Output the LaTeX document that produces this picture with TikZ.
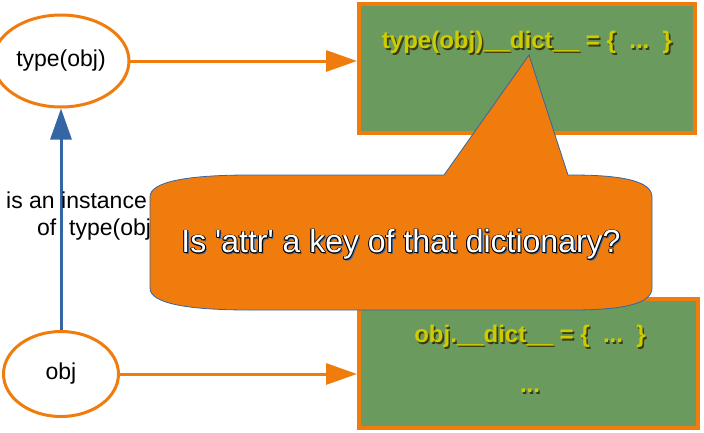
\documentclass[tikz,border=0pt]{standalone}
\usepackage{fontspec}
\setmainfont{Liberation Sans}
\newfontfamily\plainsans{Liberation Sans}[Ligatures=TeXOff]
\usetikzlibrary{arrows.meta,shapes.geometric}

\definecolor{lorange}{HTML}{F07C0E}
\definecolor{lgreen}{HTML}{6B9A5F}
\definecolor{lblue}{HTML}{3465A4}
\definecolor{lyellow}{HTML}{CCCC00}
\definecolor{lshade}{HTML}{3B3B10}

\newcommand{\dropshade}[1]{\rlap{\kern1.6pt\raisebox{-1.6pt}{\textcolor{lshade}{#1}}}#1}
\newcommand{\ghost}[4]{\rlap{\kern#1\raisebox{#2}{\textcolor{#3}{#4}}}}
\newcommand{\outlined}[1]{%
  \ghost{1.6pt}{-1.6pt}{lblue}{#1}%
  \ghost{-0.9pt}{0pt}{black}{#1}\ghost{0.9pt}{0pt}{black}{#1}%
  \ghost{0pt}{0.9pt}{black}{#1}\ghost{0pt}{-0.9pt}{black}{#1}%
  \ghost{-0.65pt}{0.65pt}{black}{#1}\ghost{0.65pt}{0.65pt}{black}{#1}%
  \ghost{-0.65pt}{-0.65pt}{black}{#1}\ghost{0.65pt}{-0.65pt}{black}{#1}%
  \textcolor{white}{#1}}

\begin{document}
\begin{tikzpicture}[x=1pt,y=-1pt,>={Triangle[length=31pt,width=21pt]},
  object/.style={ellipse,draw=lorange,line width=3pt,fill=white,
    minimum width=115pt,font=\fontsize{23}{27}\selectfont},
  dictbox/.style={draw=lorange,line width=4pt,fill=lgreen,inner sep=0pt},
  dicttext/.style={text=lyellow,font=\bfseries\fontsize{24}{28}\selectfont},
  link/.style={->,draw=lorange,line width=3pt},
  callout/.style={fill=lorange,draw=lblue,line width=0.8pt}]
  \useasboundingbox (0,0) rectangle (704,432);

  \node[dictbox,minimum width=336pt,minimum height=129pt] (tdict) at (527,68.5) {};
  \node[dictbox,minimum width=339pt,minimum height=129pt] (odict) at (528.5,363.5) {};
  \node[dicttext] (tdtext) at (527,43) {\dropshade{type(obj)\_\_dict\_\_ = \{\ \ ...\ \ \}}};
  \node[dicttext] (odtext) at (530,337) {\dropshade{obj.\_\_dict\_\_ = \{\ \ ...\ \ \}}};
  \node[dicttext] (odmore) at (530,392) {\dropshade{...}};

  \node[object,minimum height=92pt] (T) at (61,61) {type(obj)};
  \node[object,minimum height=85pt] (O) at (61,374) {obj};

  \path[link] (T.east) -- (T.east -| tdict.west);
  \path[link] (O.east) -- (O.east -| odict.west);
  \path[->,draw=lblue,line width=3pt] (O.north) -- (T.south);

  \node[anchor=west,align=left,inner sep=0pt,font=\fontsize{23}{27}\selectfont]
    (inst) at (6,216) {is an instance\\\hspace*{31pt}of\ \ type(obj)};

  % speech bubble
  \path[callout] (150,197) .. controls (150,181) and (190,175) .. (250,175)
    -- (444,175) -- (529,55) -- (568,175) -- (572,175)
    .. controls (622,175) and (652,181) .. (652,197) -- (652,288)
    .. controls (652,304) and (622,310) .. (572,310) -- (250,310)
    .. controls (190,310) and (150,304) .. (150,288) -- cycle;
  \node[font=\plainsans\fontsize{32}{38}\selectfont] (ask) at (401,245)
    {\outlined{Is 'attr' a key of that dictionary?}};
\end{tikzpicture}
\end{document}
